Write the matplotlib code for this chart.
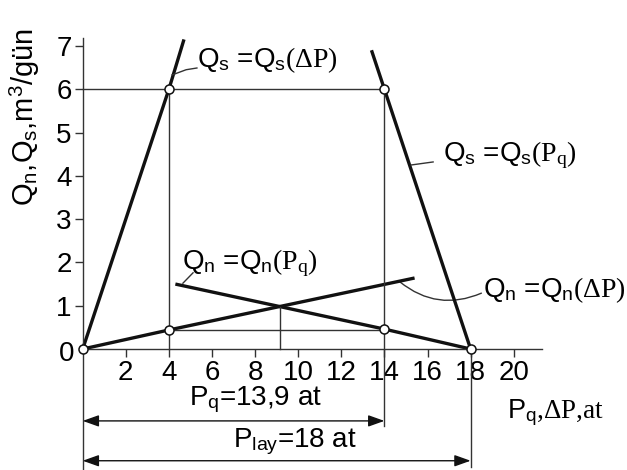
import matplotlib
matplotlib.use("Agg")
import matplotlib.pyplot as plt
from matplotlib.patches import FancyArrowPatch

plt.rcParams['font.family'] = ['Liberation Sans', 'DejaVu Sans']
plt.rcParams['mathtext.fontset'] = 'custom'
plt.rcParams['mathtext.rm'] = 'Liberation Serif'
plt.rcParams['mathtext.sf'] = 'Liberation Sans'
plt.rcParams['mathtext.it'] = 'Liberation Serif:italic'

# Well flow curves
dp_qs = [0, 4, 4.7]          # ΔP, at
qs_dp = [0, 6, 7.15]         # Qs(ΔP), m3/gün
pq_qs = [13.4, 14, 18]       # Pq, at
qs_pq = [6.9, 6, 0]          # Qs(Pq)
dp_qn = [0, 4, 15.4]         # ΔP, at
qn_dp = [0, 0.44, 1.64]      # Qn(ΔP)
pq_qn = [4.3, 14, 18]        # Pq, at
qn_pq = [1.5, 0.46, 0]       # Qn(Pq)

# Operating points
op_x = [0, 4, 14, 4, 14, 18]
op_y = [0, 6, 6, 0.45, 0.46, 0]
qs_work = 6
qn_work = 0.45
x_cross, y_cross = 9.15, 0.97
p_q = 13.9
p_lay = 18

x_ticks = [2, 4, 6, 8, 10, 12, 14, 16, 18, 20]
y_ticks = [1, 2, 3, 4, 5, 6, 7]

fig = plt.figure(figsize=(6.27, 4.70), dpi=100)
ax = fig.add_axes([0.1319, 0.2574, 0.7321, 0.6615])
ax.set_xlim(0, 21.3)
ax.set_ylim(0, 7.18)
for s in ['top', 'right']:
    ax.spines[s].set_visible(False)
for s in ['left', 'bottom']:
    ax.spines[s].set_color('#333333')
    ax.spines[s].set_linewidth(1.0)

ax.set_xticks(x_ticks)
ax.set_yticks(y_ticks)
ax.tick_params(axis='both', direction='out', length=6, width=1.0,
               color='#333333', labelsize=20, pad=2)
ax.set_xticklabels([str(v) for v in x_ticks])
ax.set_yticklabels([str(v) for v in y_ticks])
ax.text(-0.4, -0.12, '0', fontsize=20, ha='right', va='center')

thick = dict(color='#111111', lw=2.4, solid_capstyle='butt', clip_on=False)
thin = dict(color='#333333', lw=1.0, clip_on=False)

ax.plot(dp_qs, qs_dp, **thick)
ax.plot(pq_qs, qs_pq, **thick)
ax.plot(dp_qn, qn_dp, **thick)
ax.plot(pq_qn, qn_pq, **thick)

# Construction lines
ax.plot([0, 14], [qs_work, qs_work], **thin)
ax.plot([4, 4], [0, qs_work], **thin)
ax.plot([14, 14], [-1.78, qs_work], **thin)
ax.plot([4, 14], [qn_work, qn_work], **thin)
ax.plot([x_cross, x_cross], [0, y_cross], **thin)
ax.plot([0, 0], [-2.85, 0], **thin)
ax.plot([p_lay, p_lay], [-2.72, 0], **thin)

ax.plot(op_x, op_y, 'o', ms=6.5, mfc='white', mec='#111111', mew=1.1,
        clip_on=False, zorder=5)

# Dimension arrows
for x1, yv in [(p_q + 0.1, -1.66), (p_lay, -2.58)]:
    arr = FancyArrowPatch((0, yv), (x1, yv), arrowstyle='<|-|>,head_length=0.7,head_width=0.25',
                          mutation_scale=14, color='#111111', lw=1.0,
                          shrinkA=0, shrinkB=0, clip_on=False)
    ax.add_patch(arr)

ax.text(8.0, -1.18, r'P$_\mathsf{q}$=13,9 at', fontsize=20, ha='center', va='center')
ax.text(9.83, -2.15, r'P$_\mathsf{lay}$=18 at', fontsize=20, ha='center', va='center')
ax.text(19.7, -1.46, r'P$_\mathsf{q}\mathrm{{,}\Delta P{,}at}$', fontsize=19.5,
        ha='left', va='center')

ax.text(-2.68, 7.41, r'Q$_\mathsf{n}$,Q$_\mathsf{s}$,m$^\mathsf{3}$/gün', fontsize=21,
        rotation=90, ha='center', va='top')

# Curve labels with leaders
lab_fs = 20
ax.text(5.3, 6.67, r'Q$_\mathsf{s}$ =Q$_\mathsf{s}\mathrm{(\Delta P)}$', fontsize=lab_fs,
        ha='left', va='center')
ax.plot([4.15, 4.8, 5.3], [6.33, 6.45, 6.49], **thin)

ax.text(16.7, 4.48, r'Q$_\mathsf{s}$ =Q$_\mathsf{s}\mathrm{(P_q)}$', fontsize=lab_fs,
        ha='left', va='center')
ax.plot([15.24, 16.26], [4.25, 4.32], **thin)

ax.text(4.6, 1.99, r'Q$_\mathsf{n}$ =Q$_\mathsf{n}\mathrm{(P_q)}$', fontsize=lab_fs,
        ha='left', va='center')
ax.plot([4.65, 5.12], [1.52, 1.76], **thin)

ax.text(18.57, 1.36, r'Q$_\mathsf{n}$ =Q$_\mathsf{n}\mathrm{(\Delta P)}$', fontsize=lab_fs,
        ha='left', va='center')
ax.add_patch(FancyArrowPatch((14.72, 1.55), (18.5, 1.29), arrowstyle='-',
                             connectionstyle='arc3,rad=0.3', color='#333333',
                             lw=1.0, shrinkA=0, shrinkB=0, clip_on=False))

fig.savefig('out.png', dpi=100)
